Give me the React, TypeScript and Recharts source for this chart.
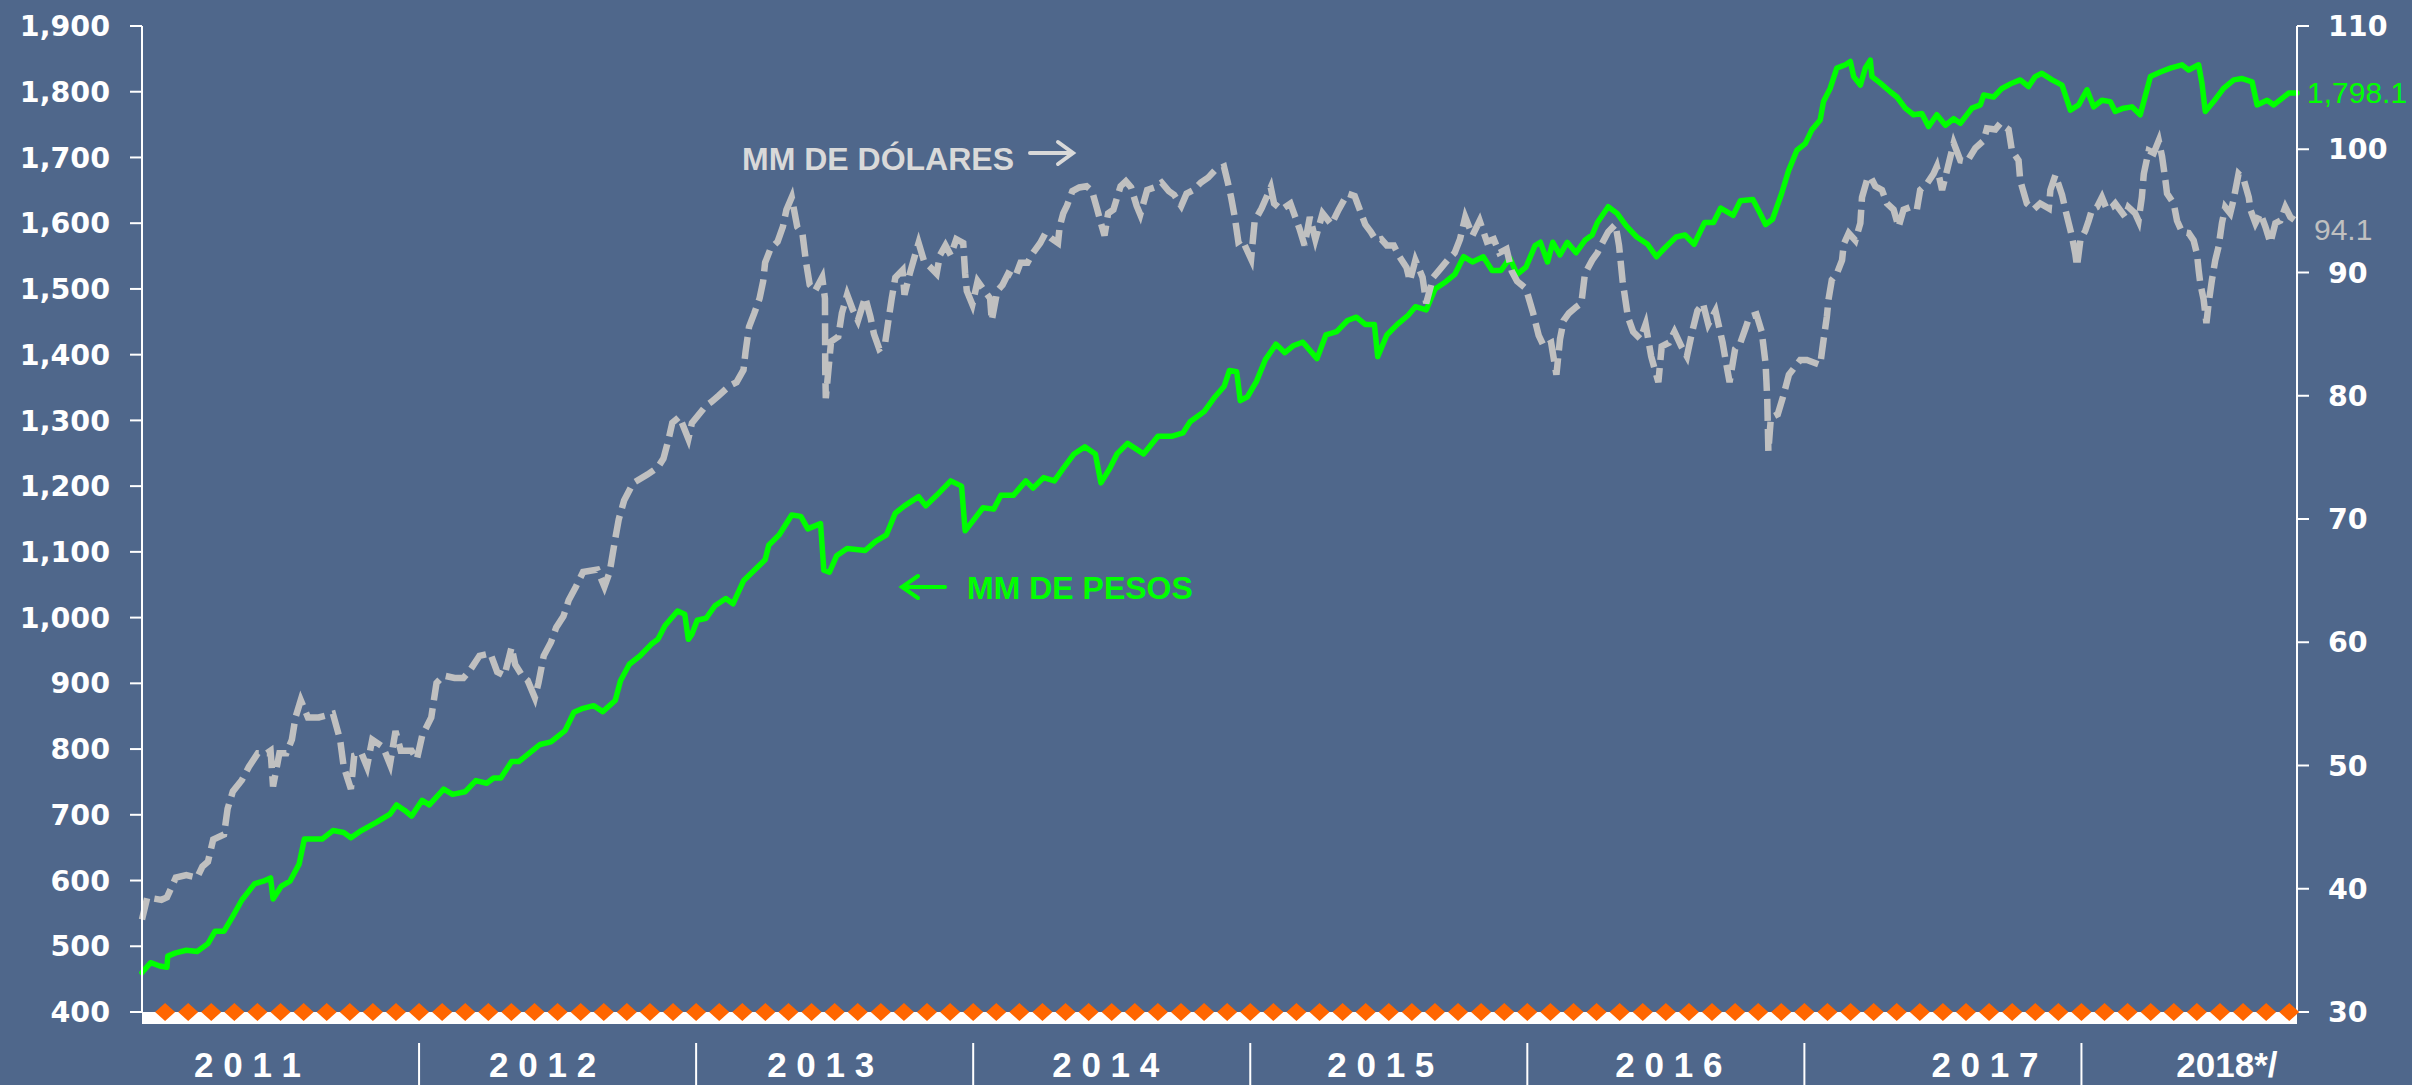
import { LineChart, Line, XAxis, YAxis } from "recharts";

// years on the bottom axis, labels as printed
const years = [2011, 2012, 2013, 2014, 2015, 2016, 2017, 2018];
const yearLabels = ["2 0 1 1", "2 0 1 2", "2 0 1 3", "2 0 1 4", "2 0 1 5", "2 0 1 6", "2 0 1 7", "2018*/"];
const leftTicks = [400, 500, 600, 700, 800, 900, 1000, 1100, 1200, 1300, 1400, 1500, 1600, 1700, 1800, 1900];
const rightTicks = [30, 40, 50, 60, 70, 80, 90, 100, 110];
const lastDay = 2018.778;

// MM de pesos (left axis) : [fraction of year, value]
const pesos: [number, number][] = [
  [2011.0, 460], [2011.031, 475], [2011.064, 470], [2011.09, 468], [2011.093, 485], [2011.122, 490],
  [2011.16, 494], [2011.199, 492], [2011.238, 504], [2011.264, 523], [2011.296, 523], [2011.328, 546],
  [2011.36, 570], [2011.406, 595], [2011.438, 599], [2011.464, 604], [2011.473, 572], [2011.502, 591],
  [2011.534, 599], [2011.567, 625], [2011.586, 663], [2011.612, 663], [2011.65, 663], [2011.689, 676],
  [2011.728, 673], [2011.754, 665], [2011.792, 676], [2011.844, 688], [2011.895, 701], [2011.919, 715],
  [2011.947, 707], [2011.973, 698], [2012.011, 722], [2012.037, 715], [2012.089, 739], [2012.121, 731],
  [2012.166, 735], [2012.205, 752], [2012.244, 748], [2012.269, 756], [2012.295, 756], [2012.334, 781],
  [2012.36, 781], [2012.398, 794], [2012.437, 807], [2012.476, 811], [2012.527, 828], [2012.559, 856],
  [2012.592, 862], [2012.63, 866], [2012.663, 857], [2012.708, 874], [2012.727, 904], [2012.759, 929],
  [2012.798, 942], [2012.837, 959], [2012.862, 967], [2012.888, 988], [2012.933, 1010], [2012.959, 1005],
  [2012.972, 967], [2012.984, 974], [2013.004, 996], [2013.036, 999], [2013.068, 1018], [2013.107, 1029],
  [2013.133, 1021], [2013.171, 1056], [2013.21, 1072], [2013.249, 1088], [2013.262, 1110], [2013.3, 1126],
  [2013.345, 1156], [2013.378, 1154], [2013.403, 1135], [2013.449, 1143], [2013.461, 1072], [2013.481, 1069],
  [2013.507, 1094], [2013.545, 1105], [2013.61, 1102], [2013.648, 1116], [2013.687, 1126], [2013.719, 1159],
  [2013.752, 1170], [2013.803, 1184], [2013.829, 1170], [2013.868, 1186], [2013.919, 1208], [2013.958, 1200],
  [2013.971, 1132], [2013.997, 1146], [2014.035, 1167], [2014.074, 1165], [2014.1, 1186], [2014.145, 1186],
  [2014.19, 1208], [2014.216, 1197], [2014.254, 1213], [2014.293, 1208], [2014.325, 1227], [2014.364, 1249],
  [2014.403, 1260], [2014.441, 1249], [2014.461, 1205], [2014.493, 1227], [2014.519, 1249], [2014.557, 1265],
  [2014.615, 1249], [2014.667, 1276], [2014.719, 1276], [2014.757, 1281], [2014.783, 1298], [2014.835, 1314],
  [2014.873, 1336], [2014.906, 1352], [2014.925, 1376], [2014.951, 1374], [2014.964, 1330], [2014.99, 1336],
  [2015.022, 1359], [2015.054, 1392], [2015.093, 1416], [2015.125, 1403], [2015.157, 1414], [2015.19, 1419],
  [2015.241, 1394], [2015.273, 1430], [2015.312, 1435], [2015.351, 1452], [2015.383, 1457], [2015.415, 1446],
  [2015.448, 1446], [2015.46, 1397], [2015.493, 1430], [2015.531, 1446], [2015.57, 1460], [2015.596, 1473],
  [2015.635, 1468], [2015.667, 1500], [2015.706, 1511], [2015.738, 1522], [2015.77, 1549], [2015.802, 1541],
  [2015.841, 1549], [2015.873, 1528], [2015.905, 1528], [2015.937, 1547], [2015.963, 1522], [2015.995, 1533],
  [2016.028, 1566], [2016.047, 1571], [2016.073, 1541], [2016.092, 1571], [2016.118, 1552], [2016.144, 1571],
  [2016.176, 1555], [2016.208, 1574], [2016.234, 1582], [2016.253, 1601], [2016.292, 1625], [2016.324, 1615],
  [2016.357, 1596], [2016.395, 1579], [2016.434, 1568], [2016.466, 1549], [2016.498, 1563], [2016.537, 1579],
  [2016.569, 1582], [2016.602, 1568], [2016.64, 1601], [2016.672, 1601], [2016.698, 1623], [2016.743, 1612],
  [2016.769, 1634], [2016.814, 1636], [2016.84, 1615], [2016.86, 1598], [2016.885, 1606], [2016.917, 1644],
  [2016.943, 1680], [2016.973, 1711], [2017.003, 1721], [2017.027, 1742], [2017.057, 1757], [2017.069, 1785],
  [2017.093, 1805], [2017.117, 1836], [2017.148, 1841], [2017.166, 1846], [2017.178, 1823], [2017.202, 1810],
  [2017.22, 1836], [2017.238, 1848], [2017.244, 1823], [2017.274, 1813], [2017.31, 1800], [2017.334, 1792],
  [2017.364, 1775], [2017.394, 1765], [2017.424, 1767], [2017.448, 1747], [2017.478, 1765], [2017.509, 1749],
  [2017.539, 1759], [2017.563, 1752], [2017.605, 1775], [2017.635, 1780], [2017.647, 1795], [2017.683, 1792],
  [2017.713, 1805], [2017.749, 1813], [2017.779, 1818], [2017.809, 1808], [2017.833, 1823], [2017.857, 1828],
  [2017.894, 1818], [2017.93, 1810], [2017.96, 1772], [2017.99, 1780], [2018.02, 1803], [2018.044, 1777],
  [2018.074, 1787], [2018.104, 1785], [2018.122, 1770], [2018.152, 1775], [2018.182, 1777], [2018.212, 1765],
  [2018.225, 1785], [2018.249, 1823], [2018.285, 1830], [2018.321, 1836], [2018.363, 1841], [2018.387, 1833],
  [2018.423, 1841], [2018.435, 1813], [2018.447, 1770], [2018.477, 1785], [2018.513, 1805], [2018.55, 1818],
  [2018.58, 1820], [2018.616, 1815], [2018.634, 1780], [2018.67, 1787], [2018.694, 1780], [2018.724, 1790],
  [2018.748, 1798], [2018.778, 1798.1],
];

// MM de dolares (right axis)
const dolares: [number, number][] = [
  [2011.0, 37.5], [2011.019, 39.3], [2011.07, 39.1], [2011.09, 39.3], [2011.122, 40.9], [2011.16, 41.1],
  [2011.199, 40.9], [2011.218, 41.8], [2011.238, 42.2], [2011.257, 44.0], [2011.296, 44.4], [2011.309, 46.5],
  [2011.328, 47.9], [2011.36, 48.8], [2011.386, 49.9], [2011.418, 51.0], [2011.451, 51.0], [2011.464, 51.2],
  [2011.473, 48.3], [2011.496, 51.0], [2011.521, 51.0], [2011.541, 52.1], [2011.554, 53.9], [2011.573, 55.3],
  [2011.599, 53.9], [2011.638, 53.9], [2011.689, 54.2], [2011.715, 52.1], [2011.728, 49.9], [2011.754, 48.1],
  [2011.766, 50.8], [2011.792, 51.0], [2011.812, 49.9], [2011.831, 52.1], [2011.87, 51.5], [2011.895, 50.1],
  [2011.915, 52.8], [2011.934, 51.2], [2011.973, 51.2], [2011.992, 50.5], [2012.011, 52.4], [2012.044, 53.9],
  [2012.063, 56.7], [2012.089, 57.3], [2012.128, 57.1], [2012.16, 57.1], [2012.186, 57.8], [2012.218, 58.9],
  [2012.257, 59.1], [2012.282, 57.6], [2012.308, 57.3], [2012.334, 59.6], [2012.347, 58.2], [2012.372, 57.3],
  [2012.392, 56.9], [2012.418, 55.5], [2012.431, 56.7], [2012.45, 58.9], [2012.476, 60.0], [2012.495, 61.2],
  [2012.521, 62.1], [2012.54, 63.4], [2012.566, 64.5], [2012.592, 65.7], [2012.643, 65.9], [2012.669, 64.5],
  [2012.688, 65.7], [2012.708, 68.4], [2012.721, 70.0], [2012.74, 71.5], [2012.772, 72.9], [2012.824, 73.6],
  [2012.862, 74.2], [2012.882, 74.9], [2012.901, 76.5], [2012.914, 77.8], [2012.94, 78.3], [2012.972, 76.5],
  [2012.985, 77.8], [2013.036, 79.2], [2013.055, 79.5], [2013.081, 80.0], [2013.12, 80.8], [2013.146, 81.1],
  [2013.171, 82.1], [2013.178, 83.5], [2013.191, 85.6], [2013.21, 86.7], [2013.229, 87.9], [2013.242, 89.3],
  [2013.249, 90.8], [2013.268, 91.9], [2013.294, 92.5], [2013.313, 93.7], [2013.326, 95.1], [2013.345, 96.1],
  [2013.365, 93.7], [2013.384, 93.1], [2013.397, 90.8], [2013.41, 89.0], [2013.429, 88.5], [2013.455, 89.6],
  [2013.465, 87.9], [2013.466, 82.1], [2013.468, 79.8], [2013.487, 84.4], [2013.513, 84.8], [2013.526, 86.7],
  [2013.545, 88.2], [2013.565, 87.0], [2013.584, 86.1], [2013.61, 88.0], [2013.629, 86.4], [2013.642, 85.0],
  [2013.661, 83.8], [2013.681, 84.1], [2013.694, 86.1], [2013.706, 87.9], [2013.719, 89.6], [2013.745, 90.2],
  [2013.752, 88.2], [2013.771, 89.9], [2013.79, 91.4], [2013.803, 92.4], [2013.823, 90.9], [2013.842, 90.5],
  [2013.868, 89.9], [2013.88, 91.4], [2013.9, 92.2], [2013.919, 91.4], [2013.939, 92.7], [2013.964, 92.4],
  [2013.971, 89.9], [2013.977, 88.5], [2013.997, 87.4], [2014.016, 89.3], [2014.035, 88.7], [2014.061, 87.9],
  [2014.067, 86.1], [2014.087, 88.5], [2014.106, 89.0], [2014.126, 89.9], [2014.151, 89.6], [2014.171, 90.8],
  [2014.196, 90.8], [2014.216, 91.6], [2014.242, 92.4], [2014.261, 93.2], [2014.28, 92.8], [2014.306, 92.4],
  [2014.312, 93.7], [2014.325, 94.8], [2014.338, 95.4], [2014.358, 96.6], [2014.383, 96.9], [2014.409, 97.0],
  [2014.429, 96.6], [2014.448, 95.1], [2014.461, 94.0], [2014.474, 93.0], [2014.487, 94.8], [2014.506, 95.1],
  [2014.532, 97.0], [2014.551, 97.4], [2014.57, 96.9], [2014.59, 95.4], [2014.603, 94.7], [2014.628, 96.7],
  [2014.654, 96.9], [2014.68, 97.3], [2014.706, 96.6], [2014.725, 96.3], [2014.751, 95.4], [2014.77, 96.4],
  [2014.796, 96.7], [2014.822, 97.3], [2014.848, 97.7], [2014.873, 98.3], [2014.905, 98.6], [2014.918, 97.4],
  [2014.931, 96.1], [2014.944, 94.5], [2014.957, 92.5], [2014.97, 92.7], [2015.003, 91.1], [2015.016, 94.2],
  [2015.041, 95.2], [2015.074, 96.9], [2015.086, 95.6], [2015.112, 95.1], [2015.145, 95.6], [2015.177, 93.6],
  [2015.196, 92.2], [2015.215, 94.5], [2015.235, 92.7], [2015.261, 94.8], [2015.293, 93.9], [2015.319, 95.1],
  [2015.351, 96.4], [2015.377, 96.2], [2015.415, 93.9], [2015.435, 93.3], [2015.454, 92.6], [2015.473, 92.7],
  [2015.493, 92.2], [2015.518, 92.2], [2015.538, 91.3], [2015.564, 90.4], [2015.576, 89.3], [2015.596, 91.0],
  [2015.622, 89.6], [2015.635, 87.5], [2015.66, 89.6], [2015.686, 90.3], [2015.712, 91.0], [2015.738, 91.6],
  [2015.757, 92.7], [2015.776, 94.5], [2015.802, 93.0], [2015.828, 94.2], [2015.854, 92.5], [2015.879, 92.7],
  [2015.899, 91.6], [2015.925, 91.9], [2015.944, 90.1], [2015.963, 89.3], [2015.995, 88.7], [2016.021, 86.7],
  [2016.041, 84.9], [2016.06, 84.0], [2016.086, 84.3], [2016.105, 81.7], [2016.118, 84.6], [2016.131, 86.1],
  [2016.15, 86.7], [2016.176, 87.2], [2016.195, 87.5], [2016.208, 89.9], [2016.234, 91.0], [2016.253, 91.6],
  [2016.273, 92.5], [2016.292, 93.3], [2016.318, 93.9], [2016.331, 92.2], [2016.344, 89.3], [2016.363, 86.4],
  [2016.382, 85.2], [2016.408, 84.6], [2016.427, 85.8], [2016.447, 83.2], [2016.473, 81.1], [2016.485, 84.0],
  [2016.511, 84.3], [2016.531, 85.2], [2016.556, 84.0], [2016.576, 83.2], [2016.595, 85.2], [2016.614, 86.9],
  [2016.634, 87.5], [2016.653, 85.8], [2016.679, 86.9], [2016.705, 84.3], [2016.718, 82.6], [2016.73, 81.1],
  [2016.75, 83.8], [2016.769, 84.3], [2016.788, 85.5], [2016.801, 86.4], [2016.827, 86.6], [2016.846, 85.2],
  [2016.86, 82.6], [2016.866, 79.7], [2016.87, 75.5], [2016.879, 78.2], [2016.904, 78.5], [2016.924, 80.0],
  [2016.944, 81.7], [2016.985, 82.9], [2017.009, 82.9], [2017.057, 82.5], [2017.069, 84.5], [2017.081, 86.4],
  [2017.087, 87.8], [2017.099, 89.4], [2017.117, 89.9], [2017.136, 91.0], [2017.142, 92.3], [2017.16, 93.2],
  [2017.184, 92.6], [2017.202, 94.0], [2017.208, 96.1], [2017.226, 97.5], [2017.238, 97.8], [2017.256, 97.0],
  [2017.28, 96.7], [2017.298, 95.6], [2017.322, 95.1], [2017.34, 93.7], [2017.358, 95.1], [2017.382, 95.3],
  [2017.406, 95.1], [2017.418, 96.7], [2017.442, 97.2], [2017.466, 98.0], [2017.478, 98.6], [2017.497, 96.7],
  [2017.515, 98.3], [2017.527, 99.4], [2017.539, 100.5], [2017.563, 99.1], [2017.587, 99.0], [2017.617, 100.1],
  [2017.647, 100.7], [2017.659, 101.7], [2017.689, 101.6], [2017.707, 102.1], [2017.737, 101.6], [2017.749, 99.9],
  [2017.773, 99.1], [2017.779, 97.5], [2017.785, 97.0], [2017.803, 95.6], [2017.827, 95.1], [2017.851, 95.6],
  [2017.882, 95.2], [2017.888, 96.7], [2017.906, 97.9], [2017.93, 96.3], [2017.942, 95.1], [2017.954, 94.0],
  [2017.966, 92.9], [2017.978, 91.5], [2017.984, 90.5], [2017.996, 92.6], [2018.014, 93.4], [2018.026, 94.2],
  [2018.038, 95.1], [2018.056, 95.3], [2018.074, 96.1], [2018.092, 95.1], [2018.11, 95.3], [2018.122, 95.6],
  [2018.158, 94.5], [2018.17, 95.3], [2018.194, 94.8], [2018.206, 94.2], [2018.218, 96.1], [2018.225, 98.0],
  [2018.243, 99.9], [2018.261, 99.7], [2018.279, 100.7], [2018.291, 99.4], [2018.303, 97.5], [2018.309, 96.4],
  [2018.333, 95.6], [2018.345, 94.2], [2018.363, 93.3], [2018.387, 93.2], [2018.405, 92.6], [2018.417, 91.5],
  [2018.423, 90.2], [2018.429, 89.1], [2018.441, 87.8], [2018.451, 85.9], [2018.459, 87.5], [2018.471, 89.4],
  [2018.483, 91.0], [2018.495, 92.1], [2018.507, 94.0], [2018.519, 95.3], [2018.537, 94.8], [2018.549, 95.9],
  [2018.567, 98.0], [2018.585, 97.6], [2018.604, 96.1], [2018.61, 95.1], [2018.628, 94.0], [2018.646, 94.8],
  [2018.664, 93.7], [2018.682, 92.4], [2018.7, 94.0], [2018.718, 94.2], [2018.736, 95.3], [2018.754, 94.5],
  [2018.778, 94.1],
];

// monthly base markers (orange diamonds sitting on the 400 line)
const markerMonths = 93;
const markerValue = 400;

const BG = "#4F678B";
const GREEN = "#00FF00";
const SILVER = "#C0C0C0";

// the year captions are not exactly centred in the original
const labelShift = [-33, -15, -14, -6, -8, 3, 42, 7];

const pesosData = pesos.map(([t, v]) => ({ t, v }));
const dolaresData = dolares.map(([t, v]) => ({ t, v }));
const markerData = Array.from({ length: markerMonths }, (_, i) => ({ t: 2011 + (i + 1) / 12, v: markerValue }));
const xTicks = years.flatMap((y) => (y === 2011 ? [y + 0.5] : [y, y + 0.5]));

const fmt = (v: number) => v.toLocaleString("en-US");

const YearTick = (props: any) => {
  const { x, y, payload } = props;
  const v = payload.value as number;
  if (Number.isInteger(v)) {
    return <line x1={x} x2={x} y1={y + 31} y2={y + 75} stroke="#fff" strokeWidth={2} />;
  }
  const i = Math.floor(v) - 2011;
  return (
    <text x={x + labelShift[i]} y={y + 65} textAnchor="middle" fill="#fff" fontSize={35} fontWeight={700} fontFamily="Liberation Sans, Arial, sans-serif">
      {yearLabels[i]}
    </text>
  );
};

const Diamond = (props: any) => {
  const { cx, cy, index } = props;
  if (cx == null || cy == null) return <g key={`d${index}`} />;
  return <polygon key={`d${index}`} points={`${cx - 10},${cy} ${cx},${cy - 9} ${cx + 10},${cy} ${cx},${cy + 9}`} fill="#FF6600" />;
};

const endLabel = (last: number, color: string, dx: number, dy: number) => (p: any) => {
  if (p.index !== last) return null;
  return (
    <text key="end" x={p.x + dx} y={p.y + dy} fill={color} fontSize={30} fontFamily="Liberation Sans, Arial, sans-serif">
      {Number(p.value).toLocaleString("en-US", { minimumFractionDigits: 1 })}
    </text>
  );
};

const axisTick = { fill: "#fff", fontSize: 28.5, fontWeight: 700, fontFamily: "DejaVu Sans, Verdana, sans-serif" };

export default function App() {
  return (
    <div style={{ position: "absolute", left: 0, top: 0, width: 2412, height: 1085, background: BG }}>
      <LineChart width={2412} height={1085} margin={{ top: 26, right: 0, bottom: 0, left: 0 }}>
        <XAxis
          dataKey="t"
          type="number"
          domain={[2011, lastDay]}
          ticks={xTicks}
          interval={0}
          height={73}
          tickSize={0}
          tickMargin={0}
          tickLine={false}
          axisLine={{ stroke: "#fff", strokeWidth: 12, transform: "translate(0,6)" }}
          tick={<YearTick />}
          allowDuplicatedCategory={false}
        />
        <YAxis
          yAxisId="left"
          width={142}
          domain={[400, 1900]}
          ticks={leftTicks}
          interval={0}
          tickSize={12}
          tickMargin={20}
          tickFormatter={fmt}
          tick={axisTick}
          axisLine={{ stroke: "#fff", strokeWidth: 2 }}
          tickLine={{ stroke: "#fff", strokeWidth: 2 }}
        />
        <YAxis
          yAxisId="right"
          orientation="right"
          width={115}
          domain={[30, 110]}
          ticks={rightTicks}
          interval={0}
          tickSize={12}
          tickMargin={19}
          tick={axisTick}
          axisLine={{ stroke: "#fff", strokeWidth: 2 }}
          tickLine={{ stroke: "#fff", strokeWidth: 2 }}
        />
        <Line
          yAxisId="left"
          data={markerData}
          dataKey="v"
          stroke="none"
          dot={Diamond}
          activeDot={false}
          isAnimationActive={false}
        />
        <Line
          yAxisId="left"
          data={pesosData}
          dataKey="v"
          stroke={GREEN}
          strokeWidth={5.5}
          strokeLinejoin="round"
          strokeLinecap="round"
          dot={false}
          activeDot={false}
          isAnimationActive={false}
          label={endLabel(pesosData.length - 1, GREEN, 10, 10)}
        />
        <Line
          yAxisId="right"
          data={dolaresData}
          dataKey="v"
          stroke={SILVER}
          strokeWidth={6.5}
          strokeDasharray="22 8"
          dot={false}
          activeDot={false}
          isAnimationActive={false}
          label={endLabel(dolaresData.length - 1, SILVER, 17, 18)}
        />
        <g fontFamily="Liberation Sans, Arial, sans-serif" fontWeight={700} fontSize={32}>
          <text x={742} y={170} fill="#D9D9D9">MM DE DÓLARES</text>
          <path d="M1030 153 H1072 M1058 142 L1073 153 L1058 164" stroke="#D9D9D9" strokeWidth={4} fill="none" strokeLinecap="round" />
          <text x={967} y={599} fill={GREEN}>MM DE PESOS</text>
          <path d="M945 587 H903 M918 576 L902 587 L918 598" stroke={GREEN} strokeWidth={4} fill="none" strokeLinecap="round" />
        </g>
      </LineChart>
    </div>
  );
}
